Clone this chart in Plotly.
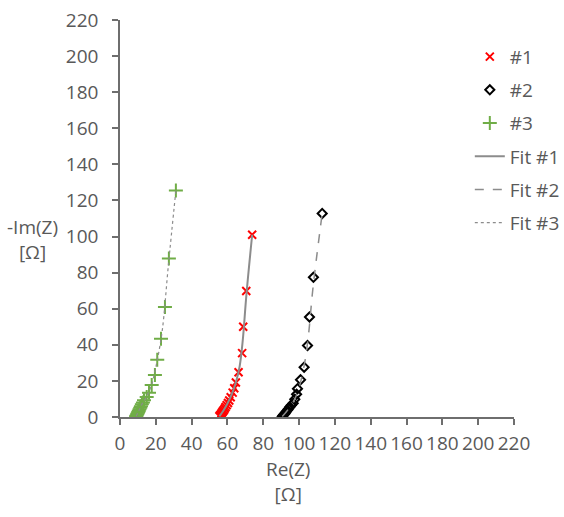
import plotly.graph_objects as go

# Impedance data (Nyquist), Re(Z) and -Im(Z) in ohm
s1_re = [55.5, 55.9, 56.3, 56.7, 57.1, 57.5, 58.0, 58.5, 59.0, 59.6, 60.3, 61.0, 61.8, 62.9, 63.8, 64.7, 66.2, 68.2, 68.8, 70.5, 73.8]
s1_im = [0.4, 0.9, 1.4, 2.0, 2.6, 3.2, 3.9, 4.7, 5.6, 6.6, 7.8, 9.1, 10.9, 13.5, 15.9, 19.1, 24.8, 35.4, 50.0, 69.8, 101.0]

s2_re = [90.6, 91.0, 91.4, 91.9, 92.4, 92.9, 93.5, 94.1, 94.8, 95.6, 96.7, 97.6, 98.6, 99.1, 100.8, 102.8, 104.7, 105.8, 108.0, 112.9]
s2_im = [0.3, 0.7, 1.2, 1.7, 2.3, 3.0, 3.8, 4.6, 5.5, 6.5, 7.6, 9.8, 12.6, 15.7, 20.6, 27.6, 39.6, 55.4, 77.4, 112.8]

s3_re = [9.0, 9.3, 9.6, 9.9, 10.2, 10.5, 10.9, 11.3, 11.7, 12.2, 12.8, 13.4, 14.9, 16.2, 17.7, 19.5, 20.8, 22.9, 25.1, 27.3, 31.2]
s3_im = [0.4, 0.9, 1.5, 2.1, 2.8, 3.5, 4.3, 5.1, 6.0, 7.0, 8.1, 9.3, 11.1, 13.5, 17.8, 23.3, 31.7, 43.3, 61.0, 87.8, 125.5]

# Equivalent-circuit fits
fit1_re = [55.5, 57.5, 60.0, 62.5, 64.8, 66.8, 68.5, 70.6, 73.8]
fit1_im = [0.4, 3.2, 7.5, 12.8, 19.5, 28.0, 42.0, 68.0, 101.0]
fit2_re = [90.6, 93.0, 95.8, 98.6, 101.0, 103.2, 105.2, 107.8, 112.9]
fit2_im = [0.3, 3.1, 6.8, 12.2, 20.0, 30.5, 45.0, 72.0, 112.8]
fit3_re = [9.0, 10.5, 12.3, 14.8, 17.6, 20.6, 23.6, 27.0, 31.2]
fit3_im = [0.4, 3.5, 7.2, 11.2, 17.8, 30.5, 48.0, 84.0, 125.5]

x_ticks = list(range(0, 221, 20))
y_ticks = list(range(0, 221, 20))

TXT = "#595959"
AX = "#6e6e6e"
FONT = "Open Sans"
FS = 19

fig = go.Figure()

fig.add_trace(go.Scatter(x=s1_re, y=s1_im, mode="markers", name="#1", legendgroup="a",
                         marker=dict(symbol="x-thin", size=8, color="#ff0000",
                                     line=dict(color="#ff0000", width=2))))
fig.add_trace(go.Scatter(x=s2_re, y=s2_im, mode="markers", name="#2", legendgroup="b",
                         marker=dict(symbol="diamond-open", size=7, color="#000000",
                                     line=dict(color="#000000", width=2))))
fig.add_trace(go.Scatter(x=s3_re, y=s3_im, mode="markers", name="#3", legendgroup="c",
                         marker=dict(symbol="cross-thin", size=10, color="#70ad47",
                                     line=dict(color="#70ad47", width=2))))
fig.add_trace(go.Scatter(x=fit1_re, y=fit1_im, mode="lines", name="Fit #1", legendgroup="d",
                         line=dict(color="#8c8c8c", width=2, shape="spline")))
fig.add_trace(go.Scatter(x=fit2_re, y=fit2_im, mode="lines", name="Fit #2", legendgroup="e",
                         line=dict(color="#8c8c8c", width=1.5, dash="dash", shape="spline")))
fig.add_trace(go.Scatter(x=fit3_re, y=fit3_im, mode="lines", name="Fit #3", legendgroup="f",
                         line=dict(color="#8c8c8c", width=1.2, dash="dot", shape="spline")))

axis_common = dict(
    showgrid=False, zeroline=False, showline=True, linecolor=AX, linewidth=1.5,
    ticks="outside", ticklen=6, tickcolor=AX, tickwidth=1.5,
    tickfont=dict(family=FONT, size=FS, color=TXT),
    range=[0, 220], automargin=False,
)

fig.update_xaxes(tickvals=x_ticks, ticktext=[str(v) for v in x_ticks], tickangle=0,
                 ticklabelstandoff=2, **axis_common)
fig.update_yaxes(tickvals=y_ticks, ticktext=[str(v) for v in y_ticks],
                 ticklabelstandoff=10, **axis_common)

fig.add_annotation(text="-Im(Z)<br>[Ω]", xref="paper", yref="paper", x=-0.292, y=0.447,
                   xanchor="left", showarrow=False, font=dict(family=FONT, size=FS, color=TXT),
                   align="center")
fig.add_annotation(text="Re(Z)<br>[Ω]", xref="paper", yref="paper", x=0.427, y=-0.092,
                   yanchor="top", showarrow=False, font=dict(family=FONT, size=FS, color=TXT),
                   align="center")

fig.update_layout(
    width=564, height=517,
    margin=dict(l=120, r=50, t=20, b=100, autoexpand=False),
    paper_bgcolor="white", plot_bgcolor="white",
    showlegend=True,
    legend=dict(xref="container", yref="container", x=0.833, y=0.927,
                xanchor="left", yanchor="top",
                font=dict(family=FONT, size=FS, color=TXT),
                traceorder="grouped", tracegroupgap=5.5, bgcolor="rgba(0,0,0,0)"),
)

fig.write_html("out.html")
